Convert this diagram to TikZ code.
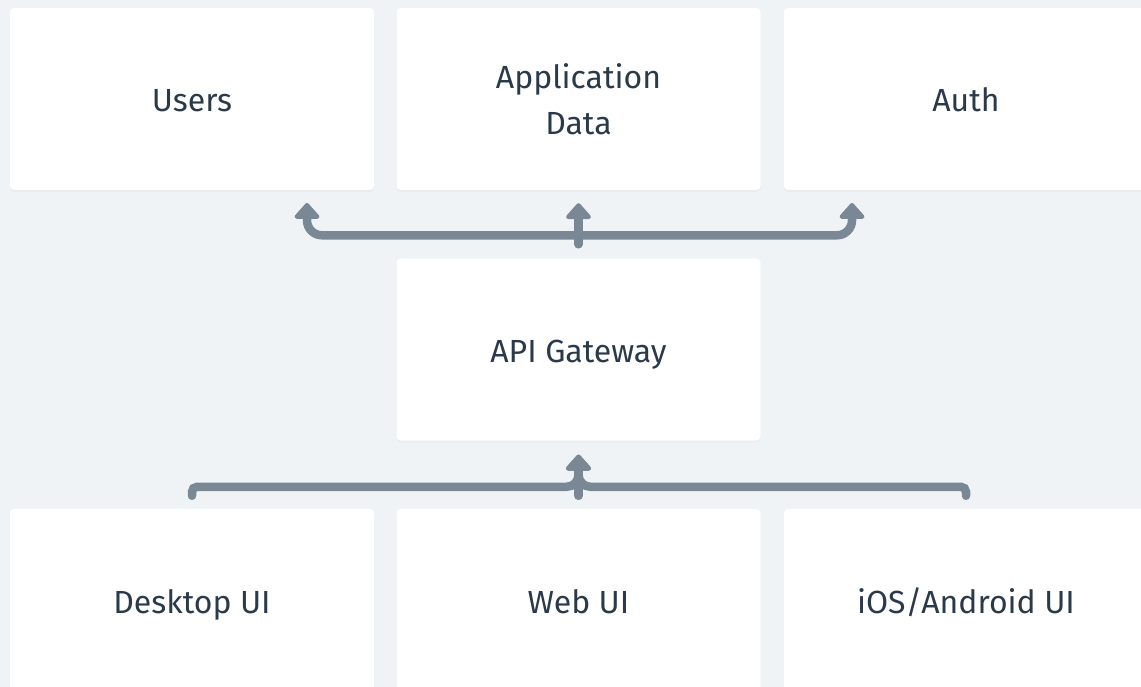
\documentclass[tikz,border=0pt]{standalone}
\usepackage{fontspec}
\setmainfont{Fira Sans}
\usetikzlibrary{arrows.meta,shadows}

\definecolor{bgcol}{HTML}{EFF3F6}
\definecolor{linkcol}{HTML}{7A8896}
\definecolor{textcol}{HTML}{2B3A4A}

\begin{document}
\begin{tikzpicture}[x=1pt,y=-1pt,
  box/.style={fill=white,rounded corners=4pt,minimum width=364pt,minimum height=182pt,
    align=center,text=textcol,font=\fontsize{32}{46}\selectfont,
    drop shadow={shadow xshift=0pt,shadow yshift=-2pt,opacity=0.05}},
  oneline/.style={text height=26pt,text depth=0pt},
  link/.style={draw=linkcol,line width=8.5pt,line cap=round,
    -{Triangle[width=29pt 0 0,length=17pt 0 0,line join=round]}}]
% Background
\useasboundingbox (0,0) rectangle (1141,687);
\fill[bgcol] (0,0) rectangle (1141,687);

% Services
\node[box,oneline] (users) at (192,99) {Users};
\node[box] (appdata) at (578.5,99) {Application\\Data};
\node[box,oneline] (auth) at (966,99) {Auth};

% Gateway
\node[box,oneline] (gateway) at (578.5,349.5) {API Gateway};

% Clients
\node[box,oneline] (desktop) at (192,600) {Desktop UI};
\node[box,oneline] (web) at (578.5,600) {Web UI};
\node[box,oneline] (ios) at (966,600) {iOS/Android UI};

% Gateway to services
\coordinate (usersin) at (307,203);
\coordinate (authin) at (852,203);
\draw[link] ([yshift=14pt]gateway.north) -- ([yshift=-13pt]appdata.south);
\draw[link,rounded corners=15pt] ([yshift=23pt]gateway.north) -| (usersin);
\draw[link,rounded corners=15pt] ([yshift=23pt]gateway.north) -| (authin);

% Clients to gateway
\draw[link] ([yshift=13pt]web.north) -- ([yshift=-14pt]gateway.south);
\draw[link,rounded corners=5pt] ([yshift=13pt]desktop.north) -- ++(0,-9)
  [rounded corners=12pt] -| ([yshift=-14pt]gateway.south);
\draw[link,rounded corners=5pt] ([yshift=13pt]ios.north) -- ++(0,-9)
  [rounded corners=12pt] -| ([yshift=-14pt]gateway.south);
\end{tikzpicture}
\end{document}
